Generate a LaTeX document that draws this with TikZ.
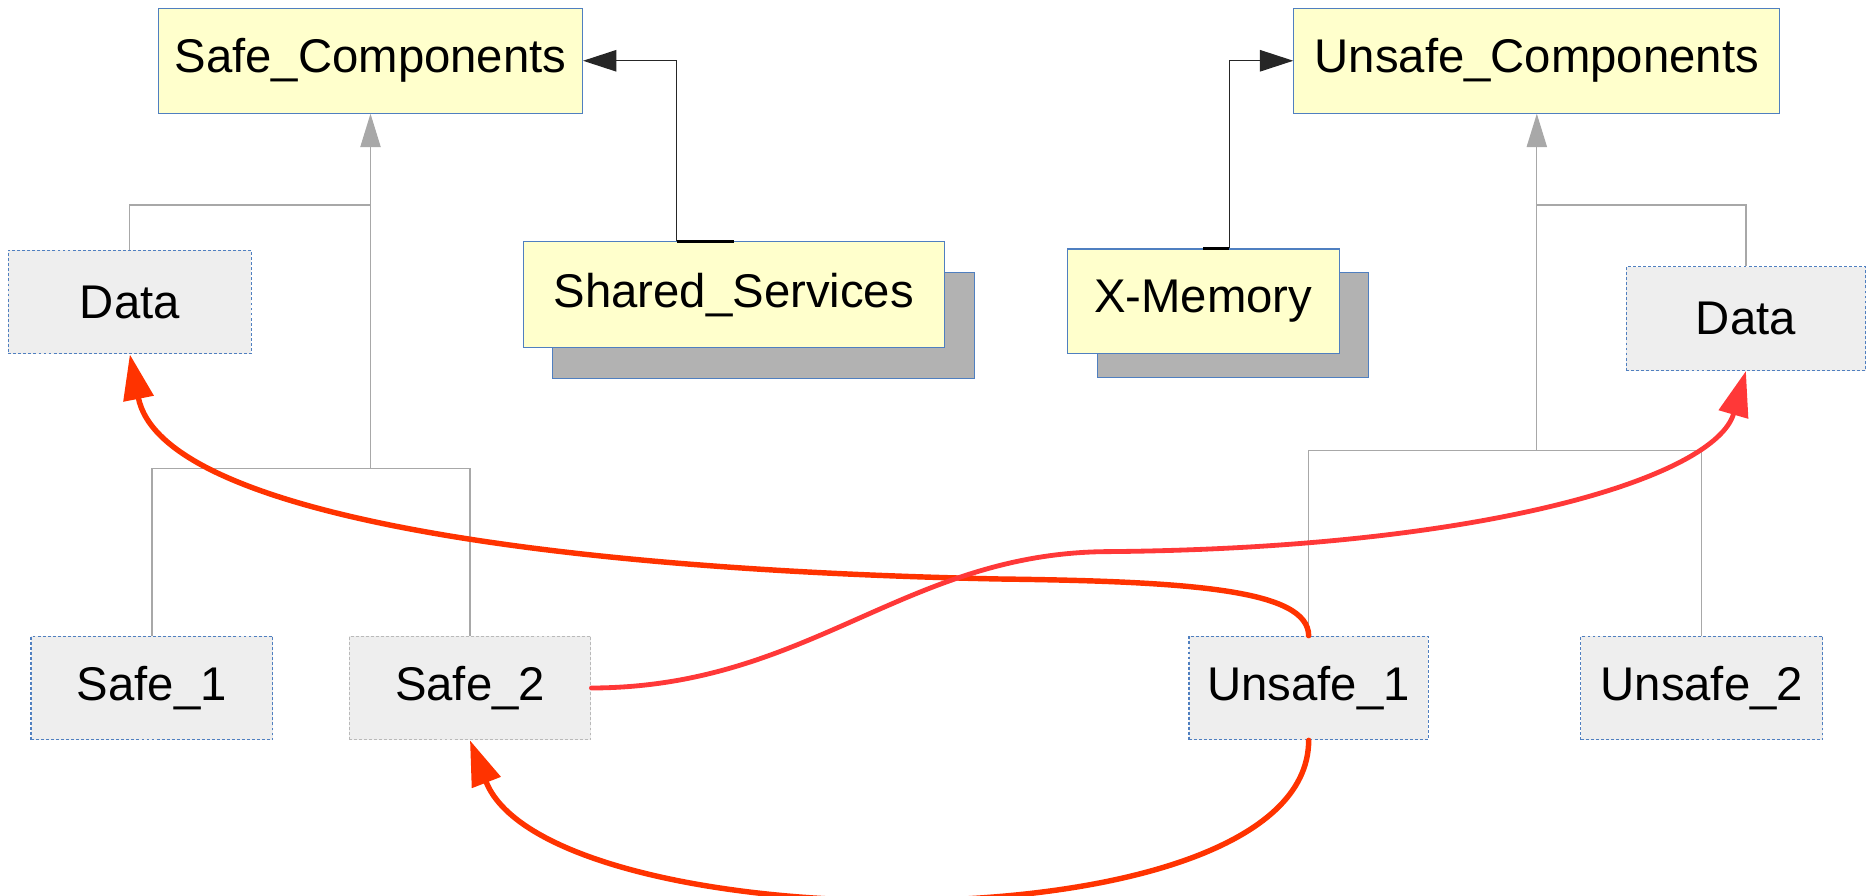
\documentclass[tikz,border=0pt]{standalone}
\usepackage{fontspec}
\setmainfont{Liberation Sans}
\usepackage{xcolor}
\usetikzlibrary{arrows.meta,shadows}

\definecolor{boxyellow}{HTML}{FFFFCC}
\definecolor{boxgray}{HTML}{EEEEEE}
\definecolor{boxblue}{HTML}{4F7FC0}
\definecolor{shadowgray}{HTML}{B2B2B2}
\definecolor{treegray}{HTML}{A8A8A8}
\definecolor{flowred}{HTML}{FF3300}
\definecolor{flowpink}{HTML}{FF3838}

\begin{document}
\begin{tikzpicture}[
  x=0.02cm, y=-0.02cm,
  font=\fontsize{22.6}{27}\selectfont,
  box/.style={draw=boxblue, line width=0.5pt, inner sep=0pt, align=center},
  pkg/.style={box, fill=boxyellow, minimum height=1.76cm},
  part/.style={box, fill=boxgray, dash pattern=on 1.4pt off 1pt, minimum height=1.74cm},
  tree/.style={draw=treegray, line width=0.6pt},
  gen/.style={tree, -{Triangle[length=5.6mm, width=3.4mm]}},
  uses/.style={draw=black!85, line width=0.6pt, -{Triangle[length=5.6mm, width=3.6mm]}},
  flow/.style={draw=flowred, line width=2.6pt, line cap=round, -{Triangle[length=7.6mm, width=5mm]}}
]
  \useasboundingbox (0,0) rectangle (1568,752);

  \node[pkg, minimum width=7.12cm] (safe_comp) at (311,51) {Safe\_Components};
  \node[pkg, minimum width=8.16cm] (unsafe_comp) at (1290,51) {Unsafe\_Components};
  \node[pkg, minimum width=7.08cm, minimum height=1.78cm,
        copy shadow={shadow xshift=0.5cm, shadow yshift=-0.52cm, fill=shadowgray, draw=boxblue}]
        (shared) at (616,247.5) {Shared\_Services};
  \node[pkg, minimum width=4.56cm,
        copy shadow={shadow xshift=0.5cm, shadow yshift=-0.4cm, fill=shadowgray, draw=boxblue}]
        (xmem) at (1010,253) {X-Memory};

  \node[part, minimum width=4.08cm] (data_l) at (109,253.5) {Data};
  \node[part, minimum width=4.02cm] (data_r) at (1465.5,267.5) {Data};
  \node[part, minimum width=4.06cm] (safe1) at (127.5,577.5) {Safe\_1};
  \node[part, draw=treegray!80, minimum width=4.06cm] (safe2) at (394.5,577.5) {Safe\_2};
  \node[part, minimum width=4.02cm] (unsafe1) at (1098.5,577.5) {Unsafe\_1};
  \node[part, minimum width=4.06cm] (unsafe2) at (1428.5,577.5) {Unsafe\_2};

  \coordinate (sfork) at (311,393);
  \coordinate (sbranch) at (311,172);
  \coordinate (ufork) at (1290,378);
  \coordinate (ubranch) at (1290,172);

  \draw[tree] (safe1.north) |- (sfork) -| (safe2.north);
  \draw[tree] (data_l.north) |- (sbranch);
  \draw[gen] (sfork) -- (safe_comp.south);
  \draw[tree] (unsafe1.north) |- (ufork) -| (unsafe2.north);
  \draw[tree] (data_r.north) |- (ubranch);
  \draw[gen] (ufork) -- (unsafe_comp.south);

  \draw[uses] ([xshift=-0.96cm]shared.north) |- (safe_comp.east);
  \draw[black, line width=1.2pt] ([xshift=-0.96cm]shared.north) -- (shared.north);
  \draw[uses] ([xshift=0.44cm]xmem.north) |- (unsafe_comp.west);
  \draw[black, line width=1.2pt] (xmem.north) -- ([xshift=0.44cm]xmem.north);

  \draw[flow] (unsafe1.north) .. controls (1098,495) and (1000,488) .. (839,486)
    .. controls (450,478) and (135,430) .. (data_l.south);
  \draw[flow, draw=flowpink, line width=2.3pt] (safe2.east) .. controls (680,577) and (760,463) .. (932,463)
    .. controls (1250,460) and (1440,400) .. (data_r.south);
  \draw[flow] (unsafe1.south) .. controls (1098,800) and (460,790) .. (safe2.south);
\end{tikzpicture}
\end{document}
